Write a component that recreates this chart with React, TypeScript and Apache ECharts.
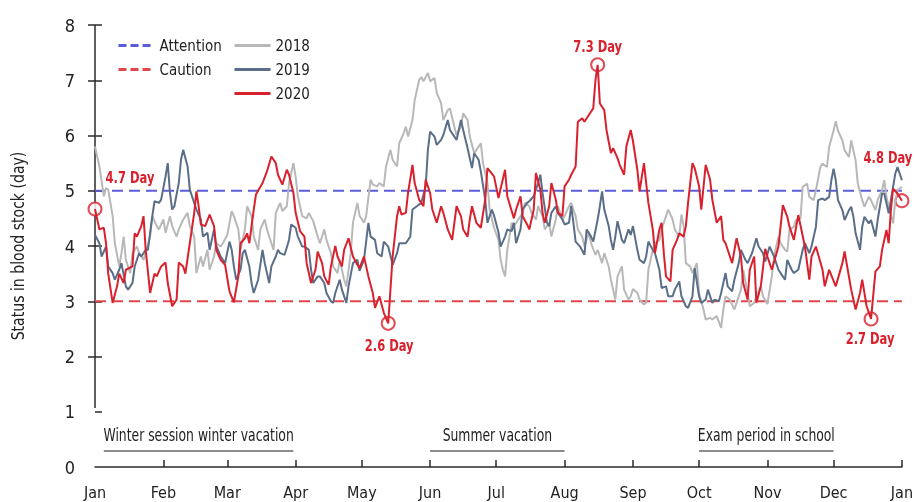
import React, { useEffect, useRef } from 'react';
import * as echarts from 'echarts';

const FONT = "'Liberation Sans Narrow', 'DejaVu Sans Condensed', 'Liberation Sans', sans-serif";

// ---- axis ticks / labels ----
const monthStartDays = [0, 31, 60, 91, 121, 152, 182, 213, 244, 274, 305, 335, 366];
const monthLabels = ['Jan', 'Feb', 'Mar', 'Apr', 'May', 'Jun', 'Jul', 'Aug', 'Sep', 'Oct', 'Nov', 'Dec', 'Jan'];
const yTickValues = [0, 1, 2, 3, 4, 5, 6, 7, 8];

// ---- thresholds ----
const attentionLevel = 5;
const cautionLevel = 3;

// ---- 2018 ----
const days2018 = [
  0, 2, 4, 5, 6, 8, 9, 11, 12, 13,
  14, 16, 17, 19, 20, 22, 23, 25, 26, 28,
  29, 31, 32, 34, 35, 37, 38, 40, 42, 43,
  45, 46, 48, 49, 51, 52, 54, 55, 57, 58,
  60, 62, 63, 65, 66, 68, 69, 71, 72, 74,
  75, 77, 78, 80, 81, 82, 84, 85, 87, 88,
  90, 91, 92, 94, 96, 97, 99, 101, 102, 104,
  105, 107, 108, 110, 111, 113, 114, 116, 117, 119,
  120, 122, 123, 125, 126, 128, 129, 131, 132, 134,
  135, 137, 138, 140, 141, 142, 144, 145, 147, 148,
  149, 151, 152, 154, 155, 157, 158, 160, 161, 163,
  164, 166, 167, 169, 170, 172, 173, 175, 176, 178,
  179, 181, 183, 184, 185, 186, 187, 189, 190, 192,
  194, 195, 197, 198, 200, 201, 203, 204, 206, 207,
  209, 210, 212, 213, 215, 216, 218, 219, 221, 222,
  224, 225, 227, 228, 230, 231, 233, 234, 236, 237,
  239, 240, 242, 243, 244, 246, 247, 249, 250, 251,
  253, 254, 256, 257, 259, 260, 262, 263, 265, 266,
  267, 268, 270, 271, 273, 274, 276, 277, 279, 280,
  282, 284, 285, 286, 288, 290, 291, 293, 294, 296,
  297, 299, 300, 302, 303, 305, 307, 308, 310, 311,
  313, 314, 315, 317, 318, 320, 321, 323, 324, 326,
  327, 329, 330, 332, 333, 335, 336, 337, 339, 340,
  342, 343, 345, 346, 348, 349, 351, 352, 354, 355,
  357, 358, 359, 360, 362, 363, 364, 366,
];
const values2018 = [
  5.80, 5.44, 4.90, 5.05, 5.02, 4.54, 4.05, 3.63, 3.87, 4.17,
  3.75, 3.51, 3.87, 3.99, 3.87, 3.75, 3.87, 4.17, 4.54, 4.36,
  4.30, 4.48, 4.24, 4.54, 4.36, 4.17, 4.30, 4.48, 4.60, 4.36,
  4.17, 3.51, 3.81, 3.63, 3.93, 3.57, 3.81, 4.05, 3.99, 4.05,
  4.20, 4.63, 4.54, 4.30, 3.93, 4.30, 4.72, 4.54, 4.17, 3.93,
  4.30, 4.48, 4.30, 4.05, 3.93, 4.60, 4.78, 4.63, 4.72, 5.14,
  5.50, 5.26, 4.90, 4.54, 4.50, 4.60, 4.45, 4.17, 4.05, 4.30,
  4.11, 3.87, 3.63, 3.51, 3.75, 3.39, 3.27, 3.87, 4.42, 4.78,
  4.55, 4.42, 4.54, 5.20, 5.11, 5.08, 5.14, 5.08, 5.44, 5.74,
  5.56, 5.44, 5.86, 6.04, 6.16, 5.98, 6.28, 6.64, 7.00, 7.06,
  6.98, 7.13, 6.98, 7.04, 6.77, 6.58, 6.28, 6.46, 6.49, 6.16,
  6.01, 6.16, 6.40, 6.28, 5.98, 5.68, 5.74, 5.86, 5.50, 5.14,
  4.66, 4.33, 4.11, 3.75, 3.57, 3.45, 3.93, 4.42, 4.36, 4.48,
  4.60, 4.78, 4.72, 4.60, 4.48, 4.72, 4.54, 4.30, 4.42, 4.17,
  4.48, 4.72, 4.48, 4.54, 4.72, 4.78, 4.54, 4.30, 4.17, 3.99,
  4.24, 4.05, 3.84, 3.93, 3.69, 3.87, 3.63, 3.39, 3.03, 3.45,
  3.63, 3.21, 3.03, 3.09, 3.22, 3.15, 3.03, 2.94, 2.97, 3.57,
  3.93, 4.05, 4.11, 4.30, 4.54, 4.66, 4.48, 4.30, 4.17, 4.57,
  4.36, 3.69, 3.63, 3.51, 3.69, 3.15, 2.85, 2.67, 2.70, 2.67,
  2.73, 2.52, 2.85, 3.09, 3.03, 2.85, 2.97, 3.21, 3.57, 3.15,
  2.91, 2.97, 3.09, 3.27, 3.09, 2.95, 3.45, 3.81, 4.17, 4.05,
  3.93, 3.90, 4.29, 4.35, 4.47, 4.50, 5.07, 5.13, 4.89, 4.83,
  5.01, 5.43, 5.49, 5.43, 5.79, 6.09, 6.26, 6.09, 5.91, 5.73,
  5.61, 5.91, 5.55, 5.13, 4.83, 4.71, 4.89, 4.83, 4.65, 4.83,
  5.01, 5.19, 4.89, 4.71, 4.41, 4.83, 5.01, 5.07,
];

// ---- 2019 ----
const days2019 = [
  0, 2, 3, 5, 6, 8, 9, 11, 12, 14,
  15, 17, 18, 20, 21, 23, 24, 26, 27, 29,
  30, 32, 33, 34, 35, 36, 38, 39, 40, 42,
  43, 45, 46, 48, 49, 51, 52, 54, 55, 57,
  59, 61, 62, 63, 64, 66, 67, 68, 70, 71,
  72, 74, 76, 77, 79, 80, 82, 83, 84, 86,
  88, 89, 91, 92, 94, 95, 97, 98, 99, 101,
  102, 104, 105, 107, 108, 109, 111, 112, 114, 115,
  117, 119, 120, 122, 124, 125, 127, 128, 130, 131,
  133, 135, 137, 138, 141, 143, 144, 146, 148, 150,
  151, 152, 154, 155, 157, 158, 160, 161, 163, 164,
  166, 167, 169, 171, 172, 174, 175, 177, 178, 180,
  181, 183, 184, 186, 187, 189, 190, 191, 193, 194,
  196, 197, 199, 201, 202, 203, 205, 206, 207, 209,
  210, 212, 213, 215, 216, 217, 218, 220, 222, 223,
  225, 226, 228, 229, 230, 231, 233, 234, 235, 236,
  237, 239, 240, 242, 243, 244, 246, 247, 249, 250,
  251, 253, 254, 256, 257, 259, 260, 262, 263, 265,
  266, 268, 269, 271, 272, 274, 275, 277, 278, 280,
  281, 283, 284, 286, 287, 289, 290, 292, 293, 295,
  296, 298, 300, 301, 303, 304, 306, 308, 310, 311,
  313, 314, 316, 317, 319, 321, 322, 324, 325, 327,
  328, 330, 331, 333, 334, 335, 336, 337, 339, 340,
  342, 343, 344, 345, 347, 348, 349, 351, 352, 354,
  355, 357, 358, 360, 361, 363, 364, 366,
];
const values2019 = [
  4.20, 4.05, 3.81, 3.99, 3.63, 3.51, 3.39, 3.57, 3.69, 3.27,
  3.21, 3.33, 3.63, 3.87, 3.81, 3.93, 3.93, 4.54, 4.81, 4.78,
  4.84, 5.26, 5.50, 4.96, 4.66, 4.72, 5.14, 5.56, 5.74, 5.44,
  5.02, 4.78, 4.66, 4.48, 4.17, 4.24, 3.93, 4.30, 4.00, 3.81,
  3.69, 4.08, 3.93, 3.63, 3.39, 3.57, 3.87, 3.93, 3.63, 3.33,
  3.15, 3.39, 3.93, 3.69, 3.33, 3.63, 3.81, 3.93, 3.87, 3.84,
  4.11, 4.39, 4.33, 4.17, 3.99, 3.99, 3.93, 3.57, 3.33, 3.45,
  3.45, 3.33, 3.15, 3.00, 2.97, 3.15, 3.39, 3.21, 2.97, 3.27,
  3.69, 3.75, 3.55, 3.75, 4.42, 4.17, 4.11, 3.87, 3.81, 4.08,
  3.99, 3.66, 3.87, 4.05, 4.05, 4.17, 4.66, 4.72, 4.78, 5.08,
  5.74, 6.07, 5.98, 5.83, 5.92, 6.01, 6.28, 6.10, 5.98, 5.92,
  6.28, 6.10, 5.77, 5.41, 5.68, 5.56, 5.35, 4.84, 4.42, 4.66,
  4.55, 4.25, 3.99, 4.17, 4.30, 4.27, 4.42, 4.05, 4.30, 4.66,
  4.78, 4.81, 4.90, 5.14, 5.29, 4.96, 4.42, 4.36, 4.60, 4.72,
  4.60, 4.48, 4.39, 4.42, 4.72, 4.42, 4.08, 3.99, 3.84, 4.30,
  4.17, 4.08, 4.48, 4.72, 4.99, 4.66, 4.36, 4.11, 3.93, 4.17,
  4.45, 4.11, 4.05, 4.30, 4.20, 4.36, 3.93, 3.75, 3.69, 3.81,
  4.08, 3.93, 3.87, 3.57, 3.24, 3.27, 3.09, 3.09, 3.21, 3.36,
  3.09, 2.91, 2.88, 3.09, 3.60, 3.09, 2.97, 3.03, 3.21, 2.97,
  3.03, 3.00, 3.15, 3.51, 3.27, 3.18, 3.39, 3.69, 3.93, 3.75,
  3.69, 3.87, 4.14, 3.99, 3.87, 3.72, 3.99, 3.81, 3.57, 3.51,
  3.39, 3.75, 3.57, 3.51, 3.57, 3.93, 4.05, 3.87, 3.99, 4.35,
  4.83, 4.86, 4.83, 4.89, 5.19, 5.40, 5.19, 4.83, 4.65, 4.47,
  4.65, 4.71, 4.53, 4.23, 3.93, 4.35, 4.53, 4.41, 4.47, 4.17,
  4.47, 4.95, 4.95, 4.59, 4.83, 5.31, 5.43, 5.19,
];

// ---- 2020 ----
const days2020 = [
  0, 2, 4, 5, 6, 8, 10, 11, 13, 14,
  17, 18, 19, 21, 22, 23, 25, 27, 28, 30,
  32, 33, 35, 37, 38, 40, 41, 43, 45, 46,
  47, 48, 50, 52, 54, 55, 57, 59, 61, 63,
  65, 66, 68, 69, 70, 72, 73, 76, 78, 80,
  82, 83, 85, 87, 88, 90, 91, 93, 95, 96,
  98, 100, 101, 103, 104, 106, 107, 109, 110, 112,
  113, 115, 117, 119, 120, 122, 124, 126, 127, 129,
  131, 133, 135, 137, 138, 139, 141, 142, 144, 145,
  147, 149, 150, 152, 153, 155, 157, 158, 160, 162,
  164, 166, 167, 169, 170, 171, 173, 175, 177, 178,
  181, 183, 186, 187, 190, 191, 193, 194, 196, 197,
  199, 200, 202, 203, 204, 206, 207, 209, 210, 212,
  213, 215, 216, 218, 219, 221, 222, 224, 226, 227,
  228, 229, 231, 232, 234, 235, 237, 238, 240, 241,
  243, 244, 246, 247, 249, 251, 253, 254, 256, 257,
  258, 259, 261, 262, 264, 265, 267, 268, 269, 271,
  272, 274, 275, 277, 279, 280, 282, 284, 285, 286,
  289, 291, 293, 294, 296, 297, 299, 300, 302, 304,
  305, 307, 310, 312, 314, 315, 317, 319, 322, 324,
  325, 327, 330, 331, 333, 336, 339, 340, 343, 345,
  347, 348, 350, 352, 354, 356, 357, 358, 359, 360,
  361, 362, 364, 366,
];
const values2020 = [
  4.67, 4.30, 4.33, 4.05, 3.50, 2.97, 3.27, 3.50, 3.33, 3.57,
  3.63, 4.23, 4.17, 4.36, 4.54, 3.93, 3.15, 3.50, 3.45, 3.63,
  3.70, 3.33, 2.91, 3.03, 3.70, 3.63, 3.50, 4.05, 4.60, 4.99,
  4.72, 4.39, 4.36, 4.57, 4.36, 3.93, 3.75, 3.66, 3.18, 2.98,
  3.45, 4.05, 4.14, 4.23, 4.05, 4.66, 4.93, 5.14, 5.35, 5.62,
  5.50, 5.29, 5.11, 5.38, 5.29, 4.96, 4.60, 4.27, 4.17, 3.69,
  3.33, 3.57, 3.90, 3.69, 3.45, 3.30, 3.63, 4.00, 3.81, 3.63,
  3.93, 4.14, 3.81, 3.66, 3.60, 3.81, 3.45, 3.15, 2.88, 3.09,
  2.79, 2.60, 3.81, 4.54, 4.72, 4.57, 4.60, 4.96, 5.47, 5.14,
  4.84, 4.72, 5.20, 4.96, 4.66, 4.42, 4.72, 4.60, 4.30, 4.11,
  4.72, 4.54, 4.30, 4.17, 4.48, 4.72, 4.42, 4.33, 4.84, 5.41,
  5.26, 4.87, 5.38, 4.90, 4.50, 4.66, 4.90, 4.54, 4.39, 4.30,
  4.66, 5.32, 5.02, 4.60, 4.42, 4.72, 5.14, 4.84, 4.60, 4.54,
  5.08, 5.20, 5.29, 5.44, 6.25, 6.31, 6.25, 6.37, 6.49, 7.00,
  7.28, 6.58, 6.46, 6.10, 5.68, 5.77, 5.59, 5.47, 5.29, 5.80,
  6.10, 5.90, 5.38, 4.99, 5.50, 4.78, 4.30, 3.87, 4.30, 4.42,
  3.87, 3.45, 3.36, 3.93, 4.11, 4.23, 4.17, 4.36, 4.78, 5.50,
  5.41, 5.08, 4.66, 5.47, 5.20, 4.84, 4.42, 4.54, 4.11, 4.05,
  3.69, 4.14, 3.81, 3.33, 3.03, 3.57, 3.81, 2.97, 3.27, 3.95,
  3.81, 3.57, 3.99, 4.74, 4.53, 4.35, 4.11, 4.56, 3.99, 3.39,
  3.81, 3.99, 3.57, 3.27, 3.57, 3.27, 3.69, 3.90, 3.21, 2.85,
  3.15, 3.39, 2.91, 2.68, 3.54, 3.63, 3.93, 4.11, 4.29, 4.05,
  4.65, 5.04, 4.95, 4.82,
];

// ---- highlighted 2020 points ----
const highlightDays = [0, 133, 228, 352, 366];
const highlightValues = [4.67, 2.6, 7.28, 2.68, 4.82];

// ---- school periods ----
const periodLabels = ['Winter session winter vacation', 'Summer vacation', 'Exam period in school'];
const periodStartDays = [4, 152, 274];
const periodEndDays = [90, 213, 335];

// styling / placement (not data)
const labelOffsets = [[35, -32], [1, 22], [0, -18], [-1, 20], [-14, -43]];
const PERIOD_LINE_LEVEL = 0.29;
const PERIOD_TEXT_LEVEL = 0.57;
const Y_AXIS_LINE_BOTTOM = 1.07;
const NARROW = 0.81;

const C2018 = '#b8b8b8';
const C2019 = '#5b6e87';
const C2020 = '#d9212e';
const CATT = '#5c5cd8';
const CCAU = '#e0464c';
const AXIS = '#2a2a2a';

const zip = (d: number[], v: number[]) => d.map((x, i) => [x, v[i]]);

export default function App() {
  const ref = useRef<HTMLDivElement>(null);
  useEffect(() => {
    const chart = echarts.init(ref.current!, null, { renderer: 'svg' });
    const lastDay = monthStartDays[monthStartDays.length - 1];
    const legendCommon = {
      orient: 'vertical',
      top: 33,
      itemWidth: 36,
      itemHeight: 14,
      itemGap: 9,
      textStyle: { fontSize: 15, color: '#222', fontFamily: FONT },
      itemStyle: { color: 'transparent', borderColor: 'transparent', borderWidth: 0, opacity: 0 },
      selectedMode: false,
    };
    const option: any = {
      animation: false,
      textStyle: { fontFamily: FONT },
      grid: { left: 95, right: 14, top: 25, bottom: 35 },
      legend: [
        {
          ...legendCommon,
          data: ['Attention', 'Caution'],
          left: 112,
          lineStyle: { type: [8, 4], width: 3 },
        },
        {
          ...legendCommon,
          data: ['2018', '2019', '2020'],
          left: 228,
          lineStyle: { width: 3 },
        },
      ],
      xAxis: {
        type: 'value',
        min: 0,
        max: lastDay,
        axisLine: { show: true, lineStyle: { color: AXIS, width: 1.5 } },
        axisTick: {
          show: true,
          inside: true,
          length: 7,
          customValues: monthStartDays.slice(1),
          lineStyle: { color: AXIS, width: 1.5 },
        },
        axisLabel: {
          customValues: monthStartDays,
          formatter: (v: number) => monthLabels[monthStartDays.indexOf(v)] ?? '',
          fontSize: 16,
          color: '#222',
          margin: 17,
          fontFamily: FONT,
        },
        splitLine: { show: false },
      },
      yAxis: [
        {
          type: 'value',
          min: 0,
          max: 8,
          interval: 1,
          position: 'left',
          axisLine: { show: false },
          axisTick: {
            show: true,
            inside: false,
            length: 7,
            customValues: yTickValues.slice(2),
            lineStyle: { color: AXIS, width: 1.5 },
          },
          axisLabel: {
            customValues: yTickValues,
            fontSize: 18,
            color: '#222',
            margin: 20,
            fontFamily: FONT,
          },
          splitLine: { show: false },
        },
        {
          type: 'value',
          min: 0,
          max: 8,
          interval: 1,
          position: 'left',
          offset: 0,
          axisLine: { show: false },
          axisTick: {
            show: true,
            inside: true,
            length: 7,
            customValues: yTickValues.slice(1),
            lineStyle: { color: AXIS, width: 1.5 },
          },
          axisLabel: { show: false },
          splitLine: { show: false },
        },
      ],
      series: [
        {
          name: 'Attention',
          type: 'line',
          data: [[0, attentionLevel], [lastDay, attentionLevel]],
          symbol: 'none',
          lineStyle: { color: CATT, width: 2, type: [11, 6] },
          itemStyle: { color: CATT },
          silent: true,
        },
        {
          name: 'Caution',
          type: 'line',
          data: [[0, cautionLevel], [lastDay, cautionLevel]],
          symbol: 'none',
          lineStyle: { color: CCAU, width: 2, type: [11, 6] },
          itemStyle: { color: CCAU },
          silent: true,
        },
        {
          name: '2018',
          type: 'line',
          data: zip(days2018, values2018),
          symbol: 'none',
          lineStyle: { color: C2018, width: 2 },
          itemStyle: { color: C2018 },
          silent: true,
        },
        {
          name: '2019',
          type: 'line',
          data: zip(days2019, values2019),
          symbol: 'none',
          lineStyle: { color: C2019, width: 2 },
          itemStyle: { color: C2019 },
          silent: true,
        },
        {
          name: '2020',
          type: 'line',
          data: zip(days2020, values2020),
          symbol: 'none',
          lineStyle: { color: C2020, width: 2 },
          itemStyle: { color: C2020 },
          silent: true,
        },
        {
          name: 'highlights',
          type: 'scatter',
          symbol: 'circle',
          symbolSize: 13,
          silent: true,
          itemStyle: { color: '#fff', borderColor: C2020, borderWidth: 2 },
          data: highlightDays.map((d, i) => [d, highlightValues[i]]),
        },
      ],
    };
    chart.setOption(option);

    const px = (d: number, v: number) => chart.convertToPixel({ gridIndex: 0 }, [d, v]) as number[];
    const graphics: any[] = [];
    const top = px(0, 8);
    const bot = px(0, Y_AXIS_LINE_BOTTOM);
    graphics.push({
      type: 'line',
      shape: { x1: top[0], y1: top[1], x2: bot[0], y2: bot[1] },
      style: { stroke: AXIS, lineWidth: 1.5 },
      silent: true,
    });
    // y axis name (narrow)
    const mid = px(0, 4);
    graphics.push({
      type: 'text',
      x: 18,
      y: mid[1],
      rotation: Math.PI / 2,
      scaleX: 0.92,
      style: {
        text: 'Status in blood stock (day)',
        fill: '#222',
        font: `17px ${FONT}`,
        textAlign: 'center',
        textVerticalAlign: 'middle',
      },
      silent: true,
    });
    // highlighted point labels
    highlightDays.forEach((d, i) => {
      const p = px(d, highlightValues[i]);
      graphics.push({
        type: 'text',
        x: p[0] + labelOffsets[i][0],
        y: p[1] + labelOffsets[i][1],
        scaleX: 0.8,
        style: {
          text: `${highlightValues[i].toFixed(1)} Day`,
          fill: C2020,
          font: `bold 16px ${FONT}`,
          textAlign: 'center',
          textVerticalAlign: 'middle',
        },
        silent: true,
        z: 10,
      });
    });
    periodLabels.forEach((label, i) => {
      const a = px(periodStartDays[i], PERIOD_LINE_LEVEL);
      const b = px(periodEndDays[i], PERIOD_LINE_LEVEL);
      const t = px((periodStartDays[i] + periodEndDays[i]) / 2, PERIOD_TEXT_LEVEL);
      graphics.push({
        type: 'line',
        shape: { x1: a[0], y1: a[1], x2: b[0], y2: b[1] },
        style: { stroke: '#666', lineWidth: 1.5 },
        silent: true,
      });
      graphics.push({
        type: 'text',
        x: t[0],
        y: t[1],
        scaleX: NARROW,
        style: {
          text: label,
          fill: '#222',
          font: `17px ${FONT}`,
          textAlign: 'center',
          textVerticalAlign: 'middle',
        },
        silent: true,
      });
    });
    chart.setOption({ graphic: graphics });

    return () => chart.dispose();
  }, []);
  return <div ref={ref} style={{ position: 'fixed', left: 0, top: 0, width: 916, height: 502 }} />;
}
